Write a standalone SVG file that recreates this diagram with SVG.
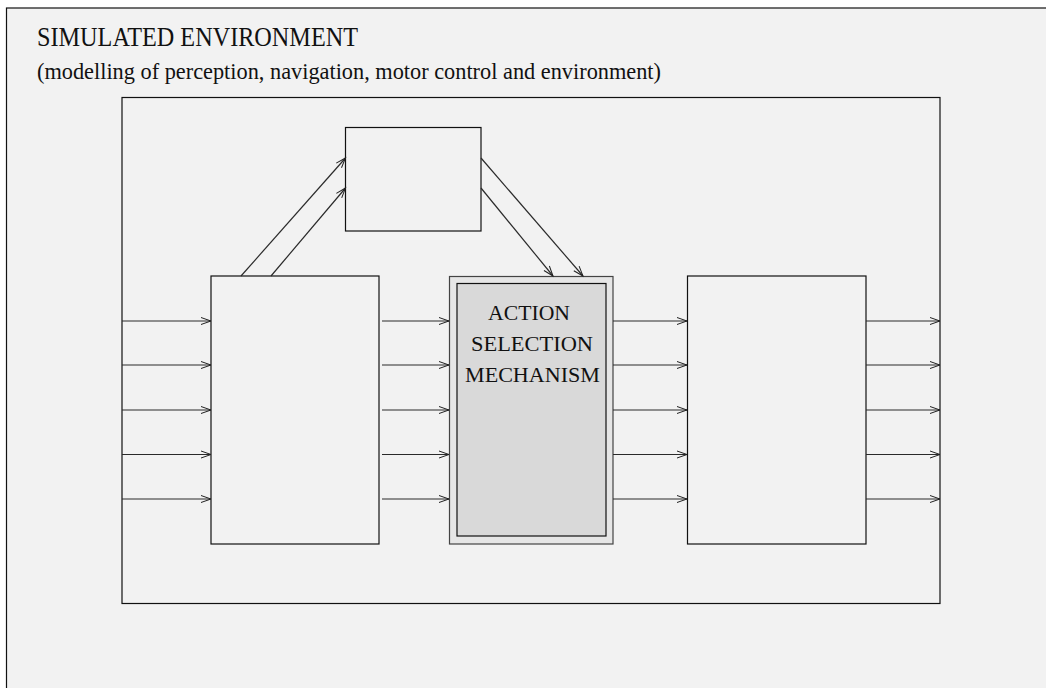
<svg xmlns="http://www.w3.org/2000/svg" width="1046" height="688" viewBox="0 0 1046 688">
  <style>
    .box { fill: none; stroke: #111; stroke-width: 1.2; }
    .wire { stroke: #2a2a2a; stroke-width: 1.2; fill: none; marker-end: url(#arrow); }
    .title { font-family: "Liberation Serif", "Times New Roman", serif; fill: #111; }
  </style>
  <defs>
    <marker id="arrow" markerUnits="userSpaceOnUse" markerWidth="12" markerHeight="10" refX="10" refY="3.5" orient="auto" overflow="visible">
      <path d="M0,0 L10,3.5 L0,7" fill="none" stroke="#222" stroke-width="1"/>
    </marker>
  </defs>

  <!-- page -->
  <rect x="0" y="0" width="1046" height="688" fill="#ffffff"/>
  <g id="environment">
    <rect x="6.5" y="8" width="1045" height="690" fill="#f2f2f2" stroke="#111" stroke-width="1.2"/>
    <text class="title" x="37" y="46" font-size="28" textLength="321" lengthAdjust="spacingAndGlyphs">SIMULATED ENVIRONMENT</text>
    <text class="title" x="37" y="79" font-size="22.5" textLength="624" lengthAdjust="spacingAndGlyphs">(modelling of perception, navigation, motor control and environment)</text>
  </g>

  <g id="agent">
    <rect class="box" x="122" y="97.5" width="818" height="506"/>
  </g>

  <g id="top-module">
    <rect class="box" x="345.5" y="127.5" width="135.5" height="103.5"/>
  </g>

  <g id="perception">
    <rect class="box" x="211" y="276" width="168" height="268"/>
  </g>

  <g id="asm">
    <rect x="449.5" y="276.5" width="163.5" height="267.5" fill="#e6e6e6" stroke="#444" stroke-width="1.2"/>
    <rect x="457" y="283.5" width="149" height="252.5" fill="#d9d9d9" stroke="#111" stroke-width="1.2"/>
    <g class="title" font-size="21">
      <text x="488" y="320" textLength="82" lengthAdjust="spacingAndGlyphs">ACTION</text>
      <text x="471" y="351" textLength="122" lengthAdjust="spacingAndGlyphs">SELECTION</text>
      <text x="465" y="382" textLength="135" lengthAdjust="spacingAndGlyphs">MECHANISM</text>
    </g>
  </g>

  <g id="motor">
    <rect class="box" x="687.5" y="276" width="178.5" height="268"/>
  </g>

  <g id="connectors">
    <!-- sensor inputs -->
    <line class="wire" x1="122" y1="321" x2="211" y2="321"/>
    <line class="wire" x1="122" y1="365" x2="211" y2="365"/>
    <line class="wire" x1="122" y1="410" x2="211" y2="410"/>
    <line class="wire" x1="122" y1="454.5" x2="211" y2="454.5"/>
    <line class="wire" x1="122" y1="499" x2="211" y2="499"/>
    <!-- perception to selection -->
    <line class="wire" x1="382" y1="321" x2="449" y2="321"/>
    <line class="wire" x1="382" y1="365" x2="449" y2="365"/>
    <line class="wire" x1="382" y1="410" x2="449" y2="410"/>
    <line class="wire" x1="382" y1="454.5" x2="449" y2="454.5"/>
    <line class="wire" x1="382" y1="499" x2="449" y2="499"/>
    <!-- selection to motor -->
    <line class="wire" x1="613" y1="321" x2="687" y2="321"/>
    <line class="wire" x1="613" y1="365" x2="687" y2="365"/>
    <line class="wire" x1="613" y1="410" x2="687" y2="410"/>
    <line class="wire" x1="613" y1="454.5" x2="687" y2="454.5"/>
    <line class="wire" x1="613" y1="499" x2="687" y2="499"/>
    <!-- motor outputs -->
    <line class="wire" x1="866" y1="321" x2="940" y2="321"/>
    <line class="wire" x1="866" y1="365" x2="940" y2="365"/>
    <line class="wire" x1="866" y1="410" x2="940" y2="410"/>
    <line class="wire" x1="866" y1="454.5" x2="940" y2="454.5"/>
    <line class="wire" x1="866" y1="499" x2="940" y2="499"/>
    <!-- loop through the top module -->
    <line class="wire" x1="241" y1="276" x2="345.5" y2="158"/>
    <line class="wire" x1="271" y1="276" x2="345.5" y2="188"/>
    <line class="wire" x1="481" y1="158" x2="583" y2="276"/>
    <line class="wire" x1="481" y1="188" x2="553" y2="276"/>
  </g>
</svg>
